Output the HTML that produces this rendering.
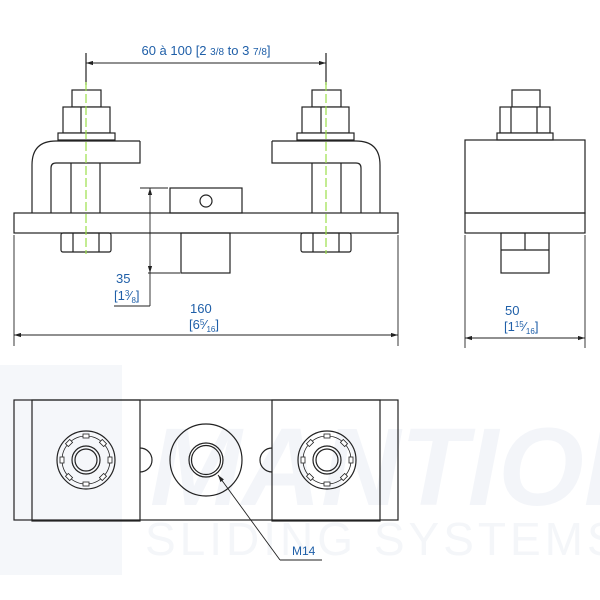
<!DOCTYPE html>
<html><head><meta charset="utf-8"><style>
html,body{margin:0;padding:0;background:#fff;}
svg{display:block;}
text{font-family:"Liberation Sans",sans-serif;}
</style></head><body>
<svg width="600" height="600" viewBox="0 0 600 600" xmlns="http://www.w3.org/2000/svg">
<defs>
<marker id="a" viewBox="0 0 10 6" refX="10" refY="3" markerWidth="8" markerHeight="5" orient="auto-start-reverse"><path d="M0,0 L10,3 L0,6 z" fill="#222"/></marker>
</defs>
<!-- watermark -->
<rect x="0" y="365" width="122" height="210" fill="#f5f7fa"/>
<text x="150" y="505" font-size="110" font-weight="bold" font-style="italic" fill="#f3f5f9">MANTION</text>
<text x="145" y="555" font-size="46" fill="#f4f6f9" letter-spacing="4">SLIDING  SYSTEMS</text>

<g fill="none" stroke="#222" stroke-width="1.2">
<line x1="86" y1="53" x2="86" y2="85"/><line x1="326" y1="53" x2="326" y2="85"/>
<line x1="86" y1="63" x2="326" y2="63" marker-start="url(#a)" marker-end="url(#a)" stroke-width="0.9"/>
<rect x="72" y="90" width="29" height="17" fill="#fff"/>
<rect x="63" y="107" width="47" height="26" fill="#fff"/>
<line x1="81" y1="107" x2="81" y2="133"/>
<rect x="58" y="133" width="57" height="7" fill="#fff"/>
<rect x="312" y="90" width="29" height="17" fill="#fff"/>
<rect x="302" y="107" width="47" height="26" fill="#fff"/>
<line x1="321" y1="107" x2="321" y2="133"/>
<rect x="297" y="133" width="57" height="7" fill="#fff"/>
<path d="M140,141 L56,141 Q32,141 32,165 L32,213 M51,213 L51,168 Q51,163 56,163 L140,163 L140,141"/>
<line x1="71" y1="163" x2="71" y2="213"/><line x1="100" y1="163" x2="100" y2="213"/>
<path d="M272,141 L356,141 Q380,141 380,165 L380,213 M361,213 L361,168 Q361,163 356,163 L272,163 L272,141"/>
<line x1="312" y1="163" x2="312" y2="213"/><line x1="341" y1="163" x2="341" y2="213"/>
<rect x="14" y="213" width="384" height="20" fill="#fff"/>
<rect x="61" y="233" width="50" height="19" rx="2"/><line x1="73" y1="233" x2="73" y2="252"/><line x1="99" y1="233" x2="99" y2="252"/>
<rect x="301" y="233" width="50" height="19" rx="2"/><line x1="313" y1="233" x2="313" y2="252"/><line x1="339" y1="233" x2="339" y2="252"/>
<rect x="170" y="188" width="72" height="25"/>
<circle cx="206" cy="201" r="6"/>
<rect x="181" y="233" width="49" height="40"/>
<line x1="140" y1="188" x2="168" y2="188" stroke-width="0.9"/>
<line x1="148" y1="273" x2="180" y2="273" stroke-width="0.9"/>
<line x1="150" y1="188" x2="150" y2="273" marker-start="url(#a)" marker-end="url(#a)" stroke-width="0.9"/>
<line x1="150" y1="273" x2="150" y2="306" stroke-width="0.9"/>
<line x1="114" y1="306" x2="150" y2="306" stroke-width="0.9"/>
<line x1="14" y1="235" x2="14" y2="346" stroke-width="0.9"/><line x1="398" y1="235" x2="398" y2="346" stroke-width="0.9"/>
<line x1="14" y1="335" x2="398" y2="335" marker-start="url(#a)" marker-end="url(#a)" stroke-width="0.9"/>

<rect x="512" y="90" width="28" height="17" fill="#fff"/>
<rect x="500" y="107" width="50" height="26" fill="#fff"/>
<line x1="511" y1="107" x2="511" y2="133"/><line x1="537" y1="107" x2="537" y2="133"/>
<rect x="497" y="133" width="56" height="7" fill="#fff"/>
<rect x="465" y="140" width="120" height="73"/>
<rect x="465" y="213" width="120" height="20"/>
<rect x="501" y="233" width="48" height="40"/>
<line x1="501" y1="250" x2="549" y2="250"/><line x1="525" y1="233" x2="525" y2="250"/>
<line x1="465" y1="235" x2="465" y2="348" stroke-width="0.9"/><line x1="585" y1="235" x2="585" y2="348" stroke-width="0.9"/>
<line x1="465" y1="338" x2="585" y2="338" marker-start="url(#a)" marker-end="url(#a)" stroke-width="0.9"/>

<rect x="14" y="400" width="384" height="120"/>
<rect x="32" y="400" width="108" height="121"/>
<rect x="272" y="400" width="108" height="121"/>
<path d="M140,448 A12,12 0 0 1 140,472"/>
<path d="M272,448 A12,12 0 0 0 272,472"/>
<circle cx="206" cy="460" r="36"/>
<circle cx="206" cy="460" r="17"/><circle cx="206" cy="460" r="14.5"/>
<circle cx="86" cy="460" r="29"/>
<circle cx="86" cy="460" r="24" stroke-width="0.8"/>
<circle cx="86" cy="460" r="14"/><circle cx="86" cy="460" r="11"/>
<circle cx="327" cy="460" r="29"/>
<circle cx="327" cy="460" r="24" stroke-width="0.8"/>
<circle cx="327" cy="460" r="14"/><circle cx="327" cy="460" r="11"/>
<line x1="218" y1="475" x2="280" y2="560" stroke-width="0.9" marker-start="url(#a)"/>
<line x1="280" y1="560" x2="322" y2="560" stroke-width="0.9"/>
</g>
<g fill="#fff" stroke="#222" stroke-width="0.8">
<g transform="translate(86,460)">
<rect x="-3" y="-26" width="6" height="4"/><rect x="-3" y="-26" width="6" height="4" transform="rotate(45)"/><rect x="-3" y="-26" width="6" height="4" transform="rotate(90)"/><rect x="-3" y="-26" width="6" height="4" transform="rotate(135)"/><rect x="-3" y="-26" width="6" height="4" transform="rotate(180)"/><rect x="-3" y="-26" width="6" height="4" transform="rotate(225)"/><rect x="-3" y="-26" width="6" height="4" transform="rotate(270)"/><rect x="-3" y="-26" width="6" height="4" transform="rotate(315)"/>
</g>
<g transform="translate(327,460)">
<rect x="-3" y="-26" width="6" height="4"/><rect x="-3" y="-26" width="6" height="4" transform="rotate(45)"/><rect x="-3" y="-26" width="6" height="4" transform="rotate(90)"/><rect x="-3" y="-26" width="6" height="4" transform="rotate(135)"/><rect x="-3" y="-26" width="6" height="4" transform="rotate(180)"/><rect x="-3" y="-26" width="6" height="4" transform="rotate(225)"/><rect x="-3" y="-26" width="6" height="4" transform="rotate(270)"/><rect x="-3" y="-26" width="6" height="4" transform="rotate(315)"/>
</g>
</g>
<g stroke="#9be04a" stroke-width="1.2" stroke-dasharray="9,3">
<line x1="86" y1="82" x2="86" y2="254"/><line x1="326" y1="82" x2="326" y2="254"/>
</g>
<g fill="#1f5fa8">
<text x="206" y="55" font-size="13" text-anchor="middle">60 à 100 [2 <tspan font-size="10">3/8</tspan> to 3 <tspan font-size="10">7/8</tspan>]</text>
<text x="116" y="283" font-size="13">35</text>
<text x="114" y="300" font-size="13">[1<tspan font-size="8" dy="-4">3</tspan><tspan dy="4">⁄</tspan><tspan font-size="8" dy="3">8</tspan><tspan dy="-3">]</tspan></text>
<text x="190" y="313" font-size="13">160</text>
<text x="189" y="329" font-size="13">[6<tspan font-size="8" dy="-4">5</tspan><tspan dy="4">⁄</tspan><tspan font-size="8" dy="3">16</tspan><tspan dy="-3">]</tspan></text>
<text x="505" y="315" font-size="13">50</text>
<text x="504" y="331" font-size="13">[1<tspan font-size="8" dy="-4">15</tspan><tspan dy="4">⁄</tspan><tspan font-size="8" dy="3">16</tspan><tspan dy="-3">]</tspan></text>
<text x="292" y="555" font-size="12">M14</text>
</g>
</svg>
</body></html>
